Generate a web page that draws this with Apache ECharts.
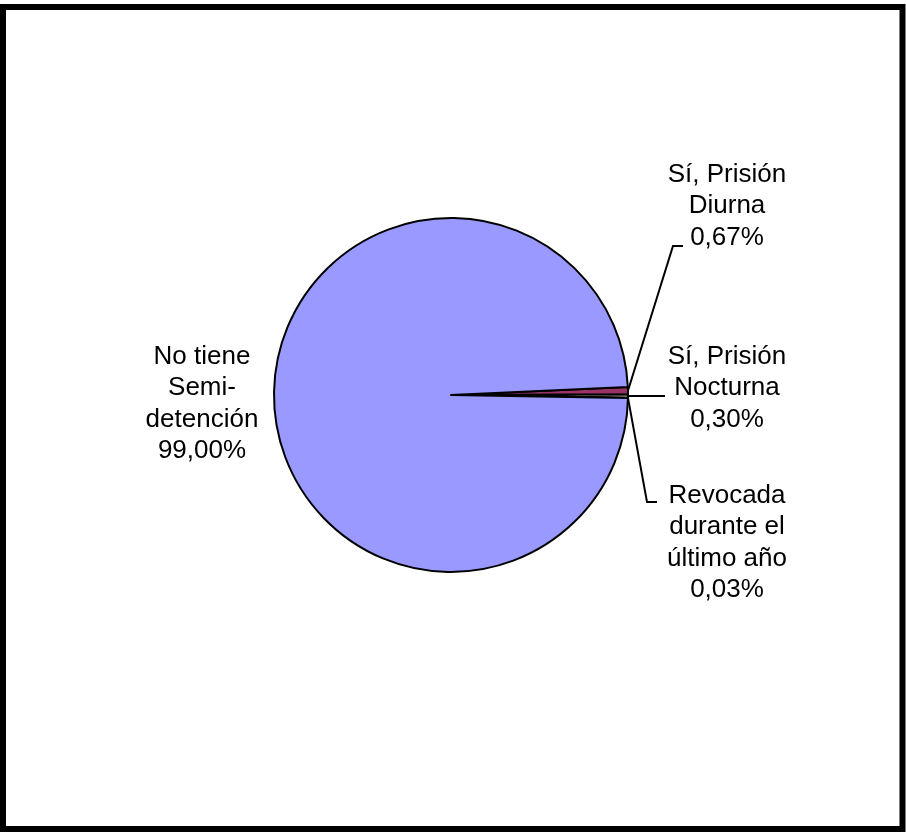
<!DOCTYPE html>
<html>
<head>
<meta charset="utf-8">
<script src="https://cdn.jsdelivr.net/npm/echarts@6/dist/echarts.min.js"></script>
<style>
html,body{margin:0;padding:0;background:#fff;}
#chart{width:906px;height:832px;}
</style>
</head>
<body>
<div id="chart"></div>
<script>
// Data
const categories = ['Sí, Prisión\nDiurna', 'Sí, Prisión\nNocturna', 'Revocada\ndurante el\núltimo año', 'No tiene\nSemi-\ndetención'];
const values = [0.67, 0.30, 0.03, 99.00];
const colors = ['#993366', '#FFFFCC', '#CCFFFF', '#9999FF'];

// Label placement (layout, not data)
const labelLayoutCfg = [
  {x: 727, y: 206, line: [[673, 246], [683, 246]]},
  {x: 727, y: 388, line: [[665, 396]]},
  {x: 727, y: 543, line: [[647, 502], [657, 502]]},
  {x: 202, y: 404, line: null}
];

const chart = echarts.init(document.getElementById('chart'), null, {renderer: 'canvas'});
chart.setOption({
  backgroundColor: '#fff',
  animation: false,
  graphic: [{
    type: 'rect',
    shape: {x: 3, y: 7, width: 899.5, height: 822},
    style: {fill: 'none', stroke: '#000', lineWidth: 6},
    z: 100
  }],
  series: [{
    type: 'pie',
    center: [451, 395],
    radius: 177,
    startAngle: 2.6,
    clockwise: true,
    avoidLabelOverlap: false,
    minAngle: 0,
    data: categories.map((c, i) => ({name: c, value: values[i], itemStyle: {color: colors[i]}})),
    itemStyle: {borderColor: '#000', borderWidth: 2},
    label: {
      show: true,
      position: 'outside',
      formatter: p => p.name + '\n' + values[p.dataIndex].toFixed(2).replace('.', ',') + '%',
      fontFamily: 'Liberation Sans, Arial, sans-serif',
      fontSize: 26,
      lineHeight: 31.5,
      color: '#000',
      align: 'center'
    },
    labelLine: {show: true, lineStyle: {color: '#000', width: 2}},
    labelLayout: function (params) {
      const cfg = labelLayoutCfg[params.dataIndex];
      const res = {x: cfg.x, y: cfg.y, align: 'center', verticalAlign: 'middle'};
      if (cfg.line && params.labelLinePoints) {
        res.labelLinePoints = [params.labelLinePoints[0]].concat(cfg.line);
      } else if (!cfg.line) {
        res.labelLinePoints = [[0, 0], [0, 0]];
      }
      return res;
    },
    emphasis: {disabled: true}
  }]
});
</script>
</body>
</html>
